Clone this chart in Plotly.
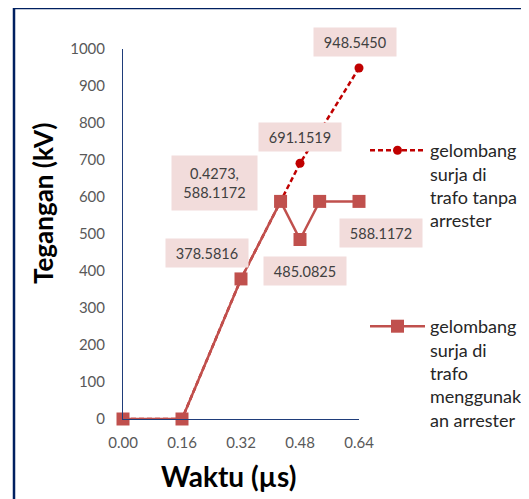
import plotly.graph_objects as go

# ---- data ----
waktu_arrester = [0, 0.16, 0.32, 0.4273, 0.48, 0.5333, 0.64]
tegangan_arrester = [0, 0, 378.5816, 588.1172, 485.0825, 588.1172, 588.1172]
waktu_tanpa = [0, 0.16, 0.32, 0.4273, 0.48, 0.64]
tegangan_tanpa = [0, 0, 378.5816, 588.1172, 691.1519, 948.5450]
nama_tanpa = "gelombang<br>surja di<br>trafo tanpa<br>arrester"
nama_arrester = "gelombang<br>surja di<br>trafo<br>menggunak<br>an arrester"
x_ticks = [0.00, 0.16, 0.32, 0.48, 0.64]
y_ticks = [0, 100, 200, 300, 400, 500, 600, 700, 800, 900, 1000]

FONT = "Lato"
OFF = 8  # page body margin
W, H = 529 - OFF, 499 - OFF
L, T = 123 - OFF, 49 - OFF
pw, ph = 236, 370
R = W - L - pw
B = H - T - ph

def px_x(p):
    return (p - OFF - L) / pw

def px_y(p):
    return (T + ph - (p - OFF)) / ph

fig = go.Figure()
fig.add_trace(go.Scatter(
    x=waktu_tanpa, y=tegangan_tanpa, name=nama_tanpa, mode="lines+markers",
    line=dict(color="#C00000", width=2.5, dash="5px,3px"),
    marker=dict(symbol="circle", size=9, color="#C00000"),
    cliponaxis=False, legend="legend",
))
fig.add_trace(go.Scatter(
    x=waktu_arrester, y=tegangan_arrester, name=nama_arrester, mode="lines+markers",
    line=dict(color="#C0504D", width=2.5),
    marker=dict(symbol="square", size=13, color="#C0504D"),
    cliponaxis=False, legend="legend2",
))

# data labels: (series x, series y, index, xshift, yshift, kind)
labels = [
    (waktu_tanpa, tegangan_tanpa, 5, -4, 26, None),
    (waktu_tanpa, tegangan_tanpa, 4, 0, 26, None),
    (waktu_arrester, tegangan_arrester, 3, -66, 18, "xy"),
    (waktu_arrester, tegangan_arrester, 2, -34, 26, None),
    (waktu_arrester, tegangan_arrester, 4, 5, -31, None),
    (waktu_arrester, tegangan_arrester, 6, 22, -32, None),
]
for xs, ys, i, dx, dy, kind in labels:
    if kind == "xy":
        txt = f"{xs[i]:.4f},<br>{ys[i]:.4f}"
        hh = 48
        ww = 79
    else:
        txt = f"{ys[i]:.4f}"
        hh = 22
        ww = 76
    fig.add_annotation(
        x=xs[i], y=ys[i], xref="x", yref="y", text=txt, showarrow=False,
        xanchor="center", yanchor="middle",
        xshift=dx, yshift=dy, bgcolor="#F2DCDB", width=ww, height=hh, borderpad=3,
        font=dict(family=FONT, size=14.5, color="#404040"), align="center",
    )

# axis titles
fig.add_annotation(x=px_x(228), y=px_y(476), xref="paper", yref="paper",
                   xanchor="center", yanchor="middle",
                   text="<b>Waktu (µs)</b>", showarrow=False,
                   font=dict(family=FONT, size=28, color="#000000"))
fig.add_annotation(x=px_x(43), y=px_y(204), xref="paper", yref="paper",
                   xanchor="center", yanchor="middle",
                   text="<b>Tegangan (kV)</b>", showarrow=False, textangle=-90,
                   font=dict(family=FONT, size=26, color="#000000"))

# outer border
fig.add_shape(type="rect", xref="paper", yref="paper",
              x0=px_x(14), x1=px_x(560), y0=px_y(540), y1=px_y(8),
              line=dict(color="#002060", width=2.5), fillcolor="rgba(0,0,0,0)")

fig.update_layout(
    width=W, height=H, margin=dict(l=L, r=R, t=T, b=B, autoexpand=False),
    paper_bgcolor="white", plot_bgcolor="white",
    font=dict(family=FONT, color="#595959"),
    xaxis=dict(range=[0, 0.64], tickvals=x_ticks, ticktext=[f"{v:.2f}" for v in x_ticks],
               showgrid=False, zeroline=False, showline=True, linecolor="#1F3D7A",
               linewidth=1, ticks="", ticklabelstandoff=10, automargin=False,
               tickfont=dict(family=FONT, size=15, color="#595959")),
    yaxis=dict(range=[0, 1000], tickvals=y_ticks, showgrid=False, zeroline=False,
               showline=True, linecolor="#1F3D7A", linewidth=1, ticks="",
               ticklabelstandoff=14, automargin=False,
               tickfont=dict(family=FONT, size=15, color="#595959")),
    legend=dict(x=px_x(365), y=px_y(132), xanchor="left", yanchor="top",
                valign="top", bgcolor="rgba(0,0,0,0)", itemwidth=55,
                font=dict(family=FONT, size=18, color="#262626")),
    legend2=dict(x=px_x(365), y=px_y(308), xanchor="left", yanchor="top",
                 valign="top", bgcolor="rgba(0,0,0,0)", itemwidth=55,
                 font=dict(family=FONT, size=18, color="#262626")),
    showlegend=True,
)

fig.write_html("out.html")
